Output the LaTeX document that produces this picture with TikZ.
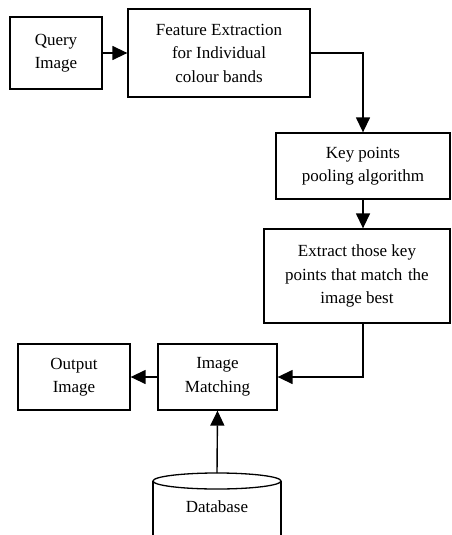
\documentclass[tikz,border=0pt]{standalone}
\usepackage{fontspec}
\setmainfont{Liberation Serif}
\usetikzlibrary{arrows.meta}
\begin{document}
\begin{tikzpicture}[x=1pt,y=-1pt,
  box/.style={draw,line width=1.3pt,align=center,inner sep=0pt,
    font=\fontsize{17}{23.5}\selectfont},
  conn/.style={line width=1.4pt,-{Triangle[length=15pt,width=14pt]}}]
\useasboundingbox (0,0) rectangle (452,535);
\node[box,minimum width=92pt,minimum height=72pt] (q) at (56,53) {Query\\Image};
\node[box,minimum width=182pt,minimum height=88pt] (f) at (219,53) {Feature Extraction\\for Individual\\colour bands};
\node[box,minimum width=174pt,minimum height=66pt] (k) at (363,166) {Key points\\pooling algorithm};
\node[box,minimum width=186pt,minimum height=94pt] (e) at (357,276) {Extract those key\\points that match\,\,the\\image best};
\node[box,minimum width=119pt,minimum height=66pt] (m) at (217.5,377) {Image\\Matching};
\node[box,minimum width=112pt,minimum height=66pt] (o) at (74,377) {Output\\Image};
% database cylinder
\begin{scope}
\clip (0,0) rectangle (452,535);
\draw[line width=1.3pt] (153,481) -- (153,545) (281,481) -- (281,545);
\draw[line width=1.3pt] (217,481) ellipse [x radius=64, y radius=8];
\end{scope}
\coordinate (dbtop) at (217,473);
\node[font=\fontsize{17}{23.5}\selectfont] (db) at (217,507) {Database};
\draw[conn] (q.east) -- (f.west |- q.east);
\draw[conn] (f.east) -| (k.north);
\draw[conn] (k.south) -- (k.south |- e.north);
\draw[conn] (k.south |- e.south) |- (m.east);
\draw[conn] (m.west) -- (o.east);
\draw[conn] (dbtop) -- (m.south);
\end{tikzpicture}
\end{document}
